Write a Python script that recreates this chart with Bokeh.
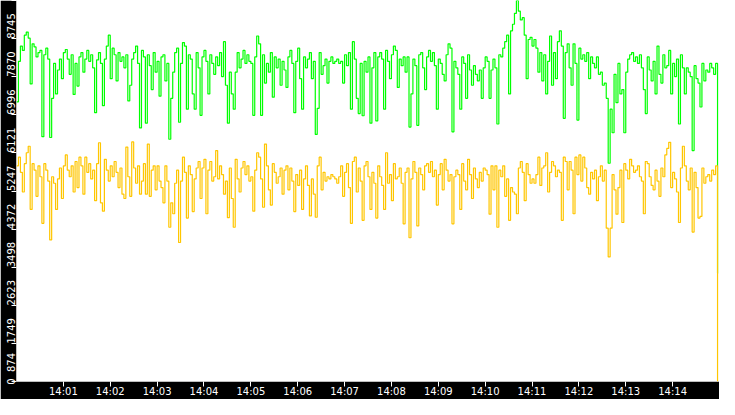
import numpy as np
from bokeh.plotting import figure
from bokeh.models import (ColumnDataSource, Range1d, FixedTicker, DatetimeTickFormatter,
                          CustomJSTickFormatter, LinearAxis)
from bokeh.embed import file_html
from bokeh.resources import INLINE

# time window shown: 14:00 - 14:15
start = np.datetime64("2024-01-01T14:00:00")
span_ms = 15 * 60 * 1000

# green series (upper trace)
green_values = [
    6420, 7350, 7700, 7600, 7950, 8020, 7880, 6830, 7750, 7680, 7450, 7550, 7600, 5620, 7500, 7650, 7400, 5600, 6500, 7300,
    6600, 7150, 7400, 6950, 7550, 7620, 7400, 7050, 7500, 6590, 7300, 6780, 7450, 7550, 7100, 7400, 7600, 7350, 7500, 7200,
    6170, 7380, 7550, 7300, 6330, 7400, 7700, 7950, 6950, 7650, 7500, 6900, 7550, 7350, 7450, 7200, 7500, 6440, 6800, 7400,
    7550, 7700, 7300, 5820, 7600, 7450, 5930, 7500, 7250, 6700, 7550, 7100, 7350, 6550, 7450, 7500, 6900, 7300, 5560, 6500,
    7100, 7550, 7650, 5950, 7300, 7780, 7700, 6250, 7500, 7400, 6600, 6250, 7550, 7200, 6110, 7450, 7600, 7350, 6600, 7500,
    7300, 7050, 7450, 7250, 7550, 7000, 7800, 6800, 5930, 7100, 6600, 6250, 7100, 7550, 7200, 7400, 7600, 7300, 7500, 7350,
    7300, 6110, 7450, 7930, 7750, 6110, 7500, 6850, 7300, 7100, 7550, 6525, 7450, 7200, 7400, 6800, 7350, 7150, 6750, 7450,
    7600, 7300, 6170, 7350, 7650, 6950, 6250, 7450, 7200, 7400, 7550, 6950, 7350, 5670, 6270, 7550, 7050, 7250, 7400, 6850,
    7350, 7450, 7300, 7350, 7400, 7300, 7350, 6850, 7500, 7250, 7550, 6250, 7800, 7400, 6500, 6150, 7300, 6100, 7350, 7100,
    7450, 5930, 7200, 7550, 5980, 7450, 7550, 7400, 6250, 7600, 7350, 6950, 7500, 7700, 7600, 6750, 7400, 7250, 7450, 7100,
    7450, 5840, 6600, 7400, 7250, 5880, 7500, 7550, 7200, 6700, 7450, 7600, 7350, 7550, 7250, 6250, 7400, 7300, 7050, 6900,
    7500, 7750, 7650, 5730, 7350, 7200, 7050, 6250, 7450, 7300, 6500, 7500, 7150, 6800, 7250, 7050, 6900, 7150, 6500, 7200,
    7450, 7350, 6500, 7150, 7400, 7200, 5910, 7500, 7450, 7650, 7800, 7950, 6600, 8050, 8200, 8450, 8745, 8500, 8300, 8350,
    7950, 6950, 7850, 7900, 7700, 7850, 7650, 7100, 7550, 6900, 7500, 6600, 7350, 7930, 6800, 7550, 6950, 7800, 8050, 7700,
    6040, 7550, 7750, 7200, 6800, 7750, 7300, 6000, 7650, 7400, 7500, 7350, 7550, 6950, 7450, 7300, 7200, 7450, 7050, 7100,
    6800, 6850, 6500, 5010, 6250, 5710, 7050, 6400, 7300, 6600, 6700, 5710, 7100, 7400, 7500, 7550, 7350, 7450, 7300, 7500,
    7200, 6700, 6150, 7450, 7150, 6900, 7350, 6600, 7700, 7050, 6850, 7500, 7200, 7250, 7600, 6600, 7300, 7000, 7400, 5910,
    7500, 7200, 6600, 7200, 7100, 7000, 5300, 7250, 6950, 6850, 6300, 7300, 6900, 7150, 7100, 7300, 7200, 7050, 7300, 2480,
]

# yellow series (lower trace)
yellow_values = [
    4950, 5150, 4800, 4350, 5000, 5250, 5400, 3950, 5000, 4850, 4250, 4950, 4700, 3630, 5000, 4850, 4600, 3250, 4700, 4550,
    3950, 4650, 4900, 4200, 4950, 5200, 4850, 4700, 4950, 4350, 5050, 4450, 5150, 4950, 4300, 5150, 4800, 5000, 4650, 4850,
    4150, 5000, 5480, 4100, 3910, 5100, 4850, 4600, 4950, 4700, 5050, 4800, 4450, 4900, 4300, 4200, 5380, 4700, 4250, 5500,
    4900, 4550, 4950, 4300, 4600, 5000, 4300, 5450, 4250, 4850, 4950, 4400, 4950, 4600, 4450, 4100, 4950, 4600, 3540, 4100,
    3850, 4550, 4850, 3190, 4600, 5150, 4800, 3750, 4950, 4750, 3900, 4650, 4900, 5050, 4200, 4900, 5100, 3850, 4850, 5050,
    4600, 4700, 5300, 4650, 4950, 4750, 4300, 4600, 3760, 4900, 4200, 3540, 5100, 4650, 4350, 4900, 5050, 4750, 4950, 4600,
    4700, 3910, 4850, 5250, 5150, 4650, 4000, 5450, 4950, 4400, 4050, 5000, 4800, 4550, 4700, 4900, 4300, 4850, 4950, 4400,
    4900, 4600, 3900, 4750, 4500, 4850, 3950, 4650, 4950, 4500, 3800, 4650, 4300, 3770, 4950, 5150, 4400, 4800, 4600, 4700,
    4650, 4750, 4700, 4650, 4550, 4700, 4950, 4250, 4800, 5000, 4450, 3630, 5050, 5150, 4350, 4900, 4600, 3700, 4950, 5050,
    4700, 3950, 4800, 4550, 3750, 4950, 4700, 4500, 3950, 5250, 4550, 4750, 4150, 5000, 4650, 4700, 4900, 4550, 3620, 4800,
    4900, 3300, 4650, 5050, 4800, 3570, 4900, 4750, 4400, 4950, 5000, 4800, 5050, 4700, 4850, 4050, 4750, 5000, 4400, 5100,
    4850, 4600, 4750, 3620, 4700, 4850, 4750, 3950, 5000, 4600, 4400, 5100, 4750, 4200, 4900, 4650, 4450, 4800, 4600, 4900,
    4850, 4750, 3840, 4950, 4400, 4950, 3540, 4850, 4700, 4950, 4250, 4650, 3700, 4450, 4350, 4300, 3850, 4900, 5050, 4800,
    4150, 5000, 4750, 4550, 4650, 4550, 4750, 5150, 4500, 4900, 4950, 5250, 4350, 4800, 5050, 4950, 4700, 4850, 4800, 3700,
    5150, 5050, 4400, 5050, 4850, 3850, 5150, 4750, 5200, 4600, 5150, 4900, 4450, 4300, 4800, 4650, 4850, 4150, 4700, 4950,
    4600, 4850, 3520, 2860, 3520, 4750, 4400, 3840, 4450, 4850, 3650, 5000, 4850, 4650, 5100, 4950, 4800, 4850, 4950, 4700,
    4600, 3850, 5050, 5000, 4700, 4500, 4400, 4850, 4600, 4250, 4900, 4700, 5200, 5350, 5490, 4450, 4800, 4650, 4350, 3650,
    4900, 5400, 4950, 4600, 4400, 4900, 3430, 4800, 4450, 3750, 3790, 4900, 4550, 4700, 4750, 4600, 4850, 4750, 4950, 0,
]

y_tick_values = [0, 874.5, 1749, 2623.5, 3498, 4372.5, 5247, 6121.5, 6996, 7870.5, 8745]
y_tick_labels = ["0", "874", "1749", "2623", "3498", "4372", "5247", "6121", "6996", "7870", "8745"]
x_tick_minutes = list(range(1, 15))

Y_MAX = 8745
FRAME_H = 380      # plot height minus the bottom band
CHAR_W = 6.36      # DejaVu Sans 10px digit width


def to_ms(t):
    return float((t - np.datetime64("1970-01-01T00:00:00")) / np.timedelta64(1, "ms"))


def times(n):
    return start + (np.arange(n) * (span_ms // n)).astype("timedelta64[ms]")


x0 = to_ms(start)
x1 = x0 + span_ms

p = figure(width=719, height=399, x_axis_type="datetime", y_axis_location=None,
           x_range=Range1d(x0, x1), y_range=Range1d(0, Y_MAX),
           output_backend="svg", toolbar_location=None,
           min_border_left=0, min_border_right=0, min_border_top=0, min_border_bottom=0,
           background_fill_color="white", border_fill_color="black", outline_line_color=None)
p.grid.visible = False

green_src = ColumnDataSource(dict(t=times(len(green_values)), v=green_values))
yellow_src = ColumnDataSource(dict(t=times(len(yellow_values)), v=yellow_values))
p.step("t", "v", source=green_src, mode="after", color="#00ff00", line_width=1.2)
p.step("t", "v", source=yellow_src, mode="after", color="#ffc600", line_width=1.2)

# x axis: one tick per minute
p.xaxis.ticker = FixedTicker(ticks=[x0 + m * 60000 for m in x_tick_minutes])
p.xaxis.formatter = DatetimeTickFormatter(minutes="%H:%M", minsec="%H:%M", hourmin="%H:%M",
                                          hours="%H:%M", seconds="%H:%M")
p.xaxis.axis_line_color = None
p.xaxis.major_tick_line_color = "white"
p.xaxis.major_tick_out = 5
p.xaxis.major_tick_in = 0
p.xaxis.minor_tick_line_color = None
p.xaxis.major_label_standoff = -1
p.xaxis.major_label_text_color = "white"
p.xaxis.major_label_text_font = "DejaVu Sans"
p.xaxis.major_label_text_font_size = "10px"

# y axis next to the frame: tick marks only
tick_axis = LinearAxis(ticker=FixedTicker(ticks=y_tick_values),
                       formatter=CustomJSTickFormatter(code="return ''"),
                       axis_line_color=None, major_tick_line_color="white",
                       major_tick_out=5, major_tick_in=0, minor_tick_line_color=None,
                       major_label_standoff=-3, major_label_text_font_size="1px")
p.add_layout(tick_axis, "left")

# outer y axis: rotated labels, each ending at its tick (text runs downward from the tick)
label_pos = []
for v, txt in zip(y_tick_values, y_tick_labels):
    half = len(txt) * CHAR_W / 2 * Y_MAX / FRAME_H
    label_pos.append(max(v - half, half))
label_axis = LinearAxis(ticker=FixedTicker(ticks=label_pos),
                        major_label_overrides={pos: txt for pos, txt in zip(label_pos, y_tick_labels)},
                        axis_line_color=None, major_tick_line_color=None, minor_tick_line_color=None,
                        major_tick_out=0, major_tick_in=0, major_label_standoff=0,
                        major_label_orientation=np.pi / 2,
                        major_label_text_color="white", major_label_text_font="DejaVu Sans",
                        major_label_text_font_size="10px")
p.add_layout(label_axis, "left")

open("out.html", "w").write(file_html(p, INLINE))
